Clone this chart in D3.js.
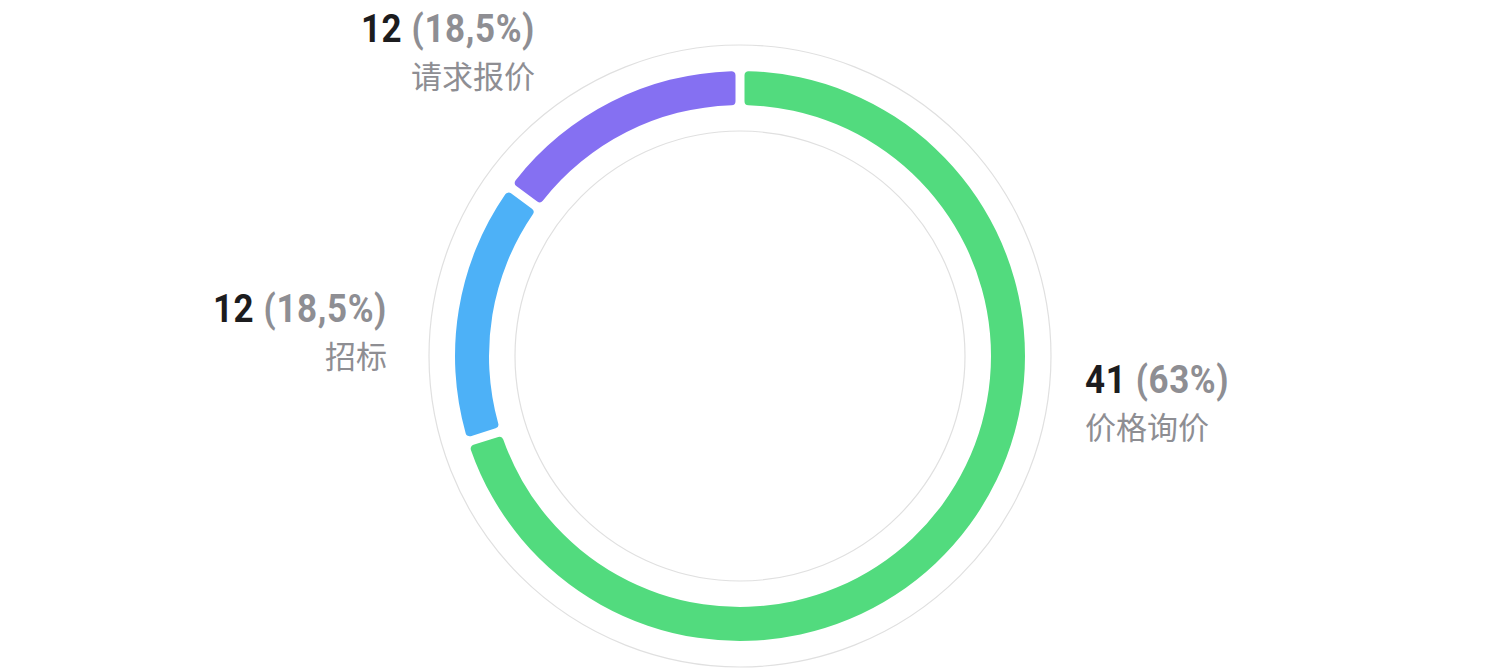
<!DOCTYPE html>
<html>
<head>
<meta charset="utf-8">
<script src="https://cdn.jsdelivr.net/npm/d3@7"></script>
<style>
  html, body { margin: 0; padding: 0; background: #fff; }
  svg { display: block; }
</style>
</head>
<body>
<svg id="chart" width="1488" height="668"></svg>
<script>
// ---- data ----
const categories = ["价格询价", "招标", "请求报价"];
const counts = [41, 12, 12];
const percentLabels = ["63%", "18,5%", "18,5%"];
// arc sweeps as drawn in the picture (degrees)
const arcShares = [252.5, 53.8, 53.7];
const colors = ["#52DB7E", "#4DB1F7", "#8570F2"];

// ---- layout ----
const W = 1488, H = 668;
const cx = 740, cy = 356;
const outerR = 285, innerR = 251;
const ringOuter = 311, ringInner = 225;

const svg = d3.select("#chart");
const g = svg.append("g").attr("transform", `translate(${cx},${cy})`);

// guide circles
g.append("circle").attr("r", ringOuter).attr("fill", "none").attr("stroke", "#e0e0e0").attr("stroke-width", 1.2);
g.append("circle").attr("r", ringInner).attr("fill", "none").attr("stroke", "#e0e0e0").attr("stroke-width", 1.2);

const data = categories.map((c, i) => ({ cat: c, count: counts[i], pct: percentLabels[i], share: arcShares[i], color: colors[i] }));

const pie = d3.pie().value(d => d.share).sort(null).startAngle(0).endAngle(2 * Math.PI);
const arc = d3.arc()
  .innerRadius(innerR)
  .outerRadius(outerR)
  .cornerRadius(4)
  .padRadius(outerR)
  .padAngle(9 / outerR);

g.selectAll("path.slice")
  .data(pie(data))
  .join("path")
  .attr("class", "slice")
  .attr("d", arc)
  .attr("fill", d => d.data.color);

// ---- labels ----
const labelPos = [
  { x: 1085, y: 393, anchor: "start" },
  { x: 387, y: 322, anchor: "end" },
  { x: 535, y: 42, anchor: "end" }
];

const numFont = "Roboto, 'Liberation Sans', sans-serif";
const cjkFont = "'Noto Sans CJK SC', 'Noto Sans', sans-serif";

data.forEach((d, i) => {
  const p = labelPos[i];
  const t = svg.append("text")
    .attr("transform", `translate(${p.x},${p.y}) scale(1,1.1)`)
    .attr("text-anchor", p.anchor)
    .style("font-family", numFont)
    .style("font-weight", 700)
    .style("font-size", "35px")
    .style("letter-spacing", "0.6px");
  t.append("tspan").attr("fill", "#1c1c1e").text(d.count);
  t.append("tspan").attr("fill", "#8e8e93").text(` (${d.pct})`);

  svg.append("text")
    .attr("x", p.x).attr("y", p.y + 46)
    .attr("text-anchor", p.anchor)
    .style("font-family", cjkFont)
    .style("font-weight", 400)
    .style("font-size", "31px")
    .attr("fill", "#8e8e93")
    .text(d.cat);
});
</script>
</body>
</html>
